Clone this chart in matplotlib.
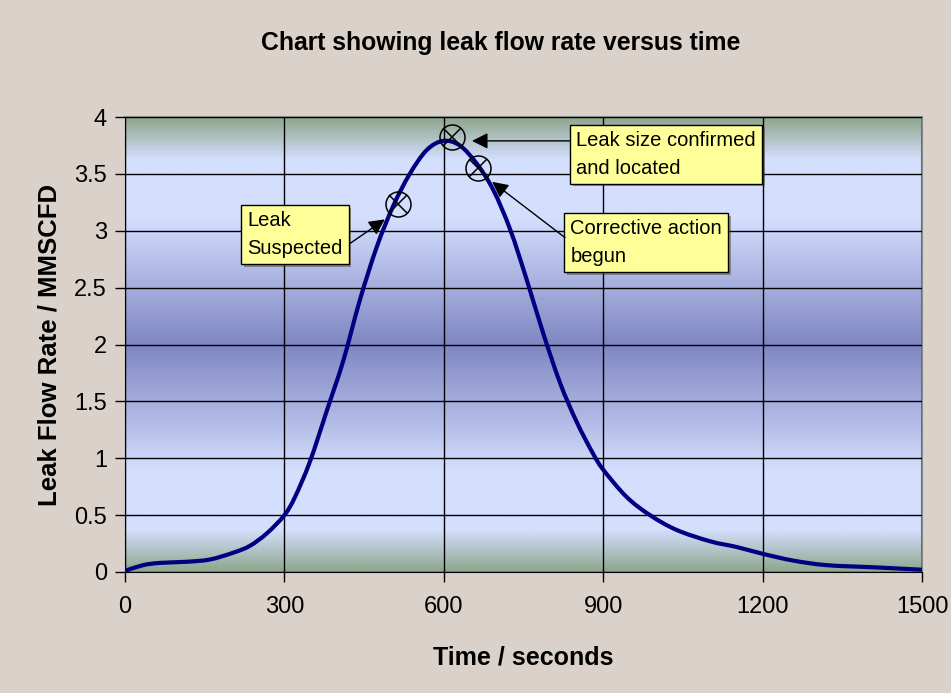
import numpy as np
import matplotlib
matplotlib.use('Agg')
import matplotlib.pyplot as plt
import matplotlib.patheffects as pe
from matplotlib.colors import LinearSegmentedColormap
from matplotlib.path import Path
from matplotlib.patches import PathPatch

# leak flow rate (seconds, MMSCFD)
time_s = [0, 34, 66, 116, 160, 204, 235, 267, 300, 320, 348, 380, 411, 442, 474, 505,
          536, 568, 599, 630, 662, 693, 725, 756, 787, 819, 850, 881, 900, 944,
          988, 1038, 1101, 1151, 1200, 1258, 1321, 1415, 1500]
flow_rate = [0.01, 0.06, 0.08, 0.09, 0.11, 0.17, 0.23, 0.34, 0.50, 0.66, 0.97, 1.42, 1.86,
             2.39, 2.86, 3.22, 3.50, 3.71, 3.79, 3.75, 3.59, 3.36, 3.01, 2.57, 2.10,
             1.66, 1.32, 1.04, 0.90, 0.66, 0.50, 0.37, 0.27, 0.22, 0.16, 0.10, 0.06,
             0.04, 0.02]

# marked events on the curve
event_times = [513, 615, 664]
event_rates = [3.235, 3.82, 3.555]
event_labels = ['Leak\nSuspected', 'Leak size confirmed\nand located', 'Corrective action\nbegun']

x_ticks = [0, 300, 600, 900, 1200, 1500]
y_ticks = [0, 0.5, 1, 1.5, 2, 2.5, 3, 3.5, 4]
y_tick_labels = ['0', '0.5', '1', '1.5', '2', '2.5', '3', '3.5', '4']


# smoothed line like excel: bezier segments through the points
def smooth_path(xs, ys):
    p = np.column_stack([xs, ys]).astype(float)
    p = np.vstack([p[0], p, p[-1]])
    verts = [p[1]]
    codes = [Path.MOVETO]
    for i in range(1, len(p) - 2):
        c1 = p[i] + (p[i + 1] - p[i - 1]) / 6
        c2 = p[i + 1] - (p[i + 2] - p[i]) / 6
        verts += [c1, c2, p[i + 1]]
        codes += [Path.CURVE4] * 3
    return Path(verts, codes)


plt.rcParams['font.family'] = ['Liberation Sans', 'DejaVu Sans']

bg = '#d9d1ca'
fig = plt.figure(figsize=(9.51, 6.93), dpi=100, facecolor=bg)
ax = fig.add_axes([125 / 951, 121 / 693, 797 / 951, 455 / 693])

# banded gradient fill for the plot area
green = '#8fa78e'
light = '#d4defd'
purple = '#7f86c2'
grad = LinearSegmentedColormap.from_list('band', [
    (0.0, green), (0.09, light), (0.22, light), (0.5, purple),
    (0.78, light), (0.91, light), (1.0, green)])
ax.imshow(np.linspace(0, 1, 400).reshape(-1, 1), cmap=grad, aspect='auto',
          extent=[0, 1500, 0, 4], origin='lower', zorder=0, interpolation='bilinear')

ax.set_xlim(0, 1500)
ax.set_ylim(0, 4)
ax.set_xticks(x_ticks)
ax.set_yticks(y_ticks)
ax.set_yticklabels(y_tick_labels)
ax.grid(True, color='black', linewidth=1.0, zorder=1)
ax.set_axisbelow(False)
ax.tick_params(direction='out', length=7, width=1, labelsize=17, pad=6)
ax.tick_params(axis='x', pad=10)
for s in ['top', 'right']:
    ax.spines[s].set_color('#8a8a8a')
    ax.spines[s].set_linewidth(1.5)
for s in ['left', 'bottom']:
    ax.spines[s].set_color('black')

ax.add_patch(PathPatch(smooth_path(time_s, flow_rate), fill=False, edgecolor='#000080',
                       linewidth=3.0, zorder=3, capstyle='round', joinstyle='round'))

# circled crosses at each event
ax.plot(event_times, event_rates, 'o', markersize=18, markerfacecolor='none',
        markeredgecolor='black', markeredgewidth=1.1, zorder=4, clip_on=False)
ax.plot(event_times, event_rates, 'x', markersize=12.5, markeredgecolor='black',
        markeredgewidth=1.1, zorder=4, clip_on=False)

box = dict(boxstyle='square,pad=0.3', facecolor='#ffff99', edgecolor='black', linewidth=1)
shadow = [pe.SimplePatchShadow(offset=(2, -2), alpha=0.5)]

text_pos = [(230, 3.17), (849, 3.88), (838, 3.10)]
arrow_start = [(424, 2.89), (838, 3.79), (828, 2.94)]
arrow_tip = [(489, 3.10), (653, 3.79), (691, 3.43)]

for lab, tp, st, tip in zip(event_labels, text_pos, arrow_start, arrow_tip):
    t = ax.text(tp[0], tp[1], lab, fontsize=14.5, ha='left', va='top',
                linespacing=1.6, bbox=box, zorder=5)
    t.get_bbox_patch().set_path_effects(shadow + [pe.Normal()])
    ax.annotate('', xy=tip, xytext=st, zorder=6,
                arrowprops=dict(arrowstyle='-|>', color='black', lw=1,
                                mutation_scale=24, shrinkA=0, shrinkB=0))

ax.set_xlabel('Time / seconds', fontsize=18, fontweight='bold', labelpad=20)
ax.set_ylabel('Leak Flow Rate / MMSCFD', fontsize=18.5, fontweight='bold', labelpad=9)
fig.text(0.527, 0.938, 'Chart showing leak flow rate versus time', fontsize=17.8,
         fontweight='bold', ha='center', va='center')

fig.savefig('out.png', dpi=100, facecolor=bg)
